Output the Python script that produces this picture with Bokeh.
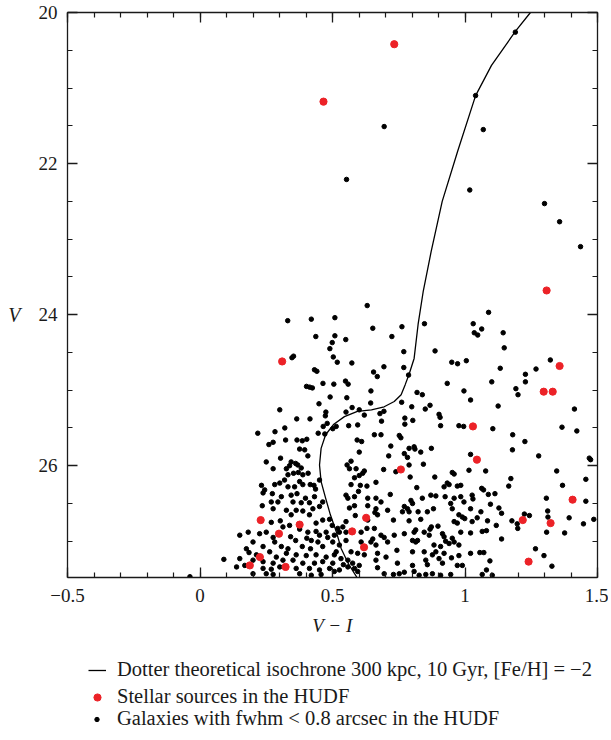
from bokeh.plotting import figure
from bokeh.layouts import column
from bokeh.models import (Range1d, LinearAxis, SingleIntervalTicker, CustomJSTickFormatter,
                          Legend, LegendItem)
from bokeh.embed import file_html
from bokeh.resources import INLINE

# ---------------- data ----------------
iso_vi = [1.265, 1.247, 1.19, 1.10, 1.04, 0.972, 0.914, 0.872, 0.842, 0.823, 0.808,
          0.789, 0.774, 0.759, 0.733, 0.695, 0.647, 0.594, 0.545, 0.505, 0.474, 0.457,
          0.451, 0.457, 0.474, 0.492, 0.514, 0.533, 0.562, 0.596, 0.61]
iso_v = [19.9, 20.0, 20.25, 20.7, 21.1, 21.84, 22.5, 23.17, 23.70, 24.13, 24.58,
         24.79, 24.93, 25.06, 25.15, 25.22, 25.26, 25.28, 25.35, 25.45, 25.59, 25.77,
         25.99, 26.21, 26.43, 26.65, 26.87, 27.10, 27.31, 27.50, 27.6]

star_vi = [0.733, 0.466, 1.308, 0.310, 1.357, 1.297, 1.331, 1.030, 0.758, 1.045,
           1.406, 1.218, 1.323, 1.240, 0.229, 0.376, 0.627, 0.298, 0.574, 0.619,
           0.226, 0.188, 0.323]
star_v = [20.42, 21.18, 23.68, 24.62, 24.68, 25.02, 25.02, 25.48, 26.05, 25.92,
          26.45, 26.72, 26.76, 27.27, 26.72, 26.78, 26.69, 26.90, 26.87, 27.08,
          27.21, 27.32, 27.34]

gal_vi_top = [1.190, 1.040, 1.069, 1.018, 0.695, 0.553, 1.300, 1.357, 1.436]
gal_v_top = [20.26, 21.10, 21.55, 22.35, 21.51, 22.21, 22.53, 22.77, 23.10]

gal_vi_a = [0.331, 0.420, 0.509, 0.437, 0.509, 0.550, 0.499, 0.490, 0.353, 0.347,
            0.503, 0.518, 0.432, 0.441, 0.464, 0.505, 0.549, 0.559, 0.402, 0.414,
            0.424, 0.449, 0.491, 0.554, 0.301, 0.475, 0.473, 0.551, 0.365, 0.415,
            0.320, 0.283, 0.218, 0.465, 0.480, 0.501, 0.514, 0.446, 0.471, 0.561]
gal_v_a = [24.08, 24.06, 24.04, 24.29, 24.28, 24.33, 24.37, 24.45, 24.55, 24.57,
           24.56, 24.63, 24.73, 24.75, 24.91, 24.92, 24.88, 24.92, 24.95, 24.96,
           24.97, 25.18, 25.09, 25.10, 25.26, 25.29, 25.34, 25.29, 25.38, 25.38,
           25.50, 25.55, 25.57, 25.48, 25.44, 25.51, 25.48, 25.57, 25.58, 25.47]

gal_vi_b = [0.631, 0.652, 0.762, 0.847, 0.724, 0.769, 0.887, 0.573, 0.694, 0.655,
            0.669, 0.769, 0.950, 0.972, 1.005, 0.787, 0.933, 0.645, 0.996, 0.819,
            0.839, 0.644, 0.761, 1.021, 0.799, 0.868, 0.850, 0.574, 0.601, 0.679,
            0.694, 0.620, 0.902, 0.906, 0.773, 0.803, 0.685, 0.595, 0.773, 0.908,
            0.977, 0.995]
gal_v_b = [23.88, 24.18, 24.16, 24.12, 24.29, 24.49, 24.48, 24.64, 24.69, 24.76,
           24.82, 24.70, 24.63, 24.65, 24.61, 24.80, 24.91, 25.01, 25.01, 25.03,
           25.06, 25.17, 25.16, 25.13, 25.22, 25.20, 25.25, 25.23, 25.26, 25.31,
           25.28, 25.33, 25.32, 25.36, 25.37, 25.40, 25.41, 25.46, 25.45, 25.47,
           25.47, 25.48]

gal_vi_c = [1.089, 1.031, 1.035, 1.048, 1.063, 1.144, 1.148, 1.322, 1.133, 1.268,
            1.228, 1.101, 1.228, 1.192, 1.200, 1.125, 1.413, 1.105, 1.366, 1.422,
            1.180]
gal_v_c = [23.97, 24.12, 24.24, 24.27, 24.19, 24.24, 24.44, 24.60, 24.71, 24.72,
           24.79, 24.89, 24.89, 24.98, 25.06, 25.21, 25.25, 25.51, 25.49, 25.54,
           25.59]

gal_vi_d = [0.276, 0.260, 0.323, 0.366, 0.386, 0.403, 0.395, 0.376, 0.407, 0.304,
            0.250, 0.344, 0.361, 0.369, 0.338, 0.326, 0.382, 0.276, 0.353, 0.332,
            0.371, 0.408, 0.388, 0.319, 0.301, 0.282, 0.376, 0.388, 0.416, 0.430,
            0.451, 0.436, 0.357, 0.332, 0.232, 0.244, 0.238, 0.273, 0.366, 0.344,
            0.307, 0.294, 0.269, 0.351, 0.382, 0.413, 0.398, 0.432, 0.463, 0.235,
            0.276, 0.326, 0.363, 0.388, 0.426, 0.451, 0.413, 0.344, 0.303, 0.269,
            0.338, 0.313, 0.438, 0.463, 0.489, 0.499, 0.520, 0.539, 0.376, 0.407,
            0.438, 0.451, 0.476, 0.507, 0.526, 0.551, 0.150, 0.182, 0.225, 0.250,
            0.276, 0.282, 0.342, 0.361, 0.403, 0.420, 0.445, 0.482, 0.501, 0.526,
            0.551, 0.200, 0.238, 0.307, 0.332, 0.386, 0.417, 0.463, 0.514, 0.175,
            0.185, 0.213, 0.263, 0.288, 0.326, 0.363, 0.401, 0.438, 0.476, 0.507,
            0.532, 0.150, 0.200, 0.238, 0.276, 0.313, 0.351, 0.388, 0.432, 0.463,
            0.501, 0.541, 0.090, 0.138, 0.169, 0.238, 0.269, 0.301, 0.363, 0.413,
            0.451, 0.489, 0.526, 0.558, 0.200, 0.250, 0.276, 0.376, 0.420, 0.457,
            0.507, -0.038]
gal_v_d = [25.69, 25.72, 25.66, 25.66, 25.67, 25.65, 25.79, 25.78, 25.87, 25.90,
           25.95, 25.95, 25.97, 25.99, 26.00, 26.04, 26.03, 26.04, 26.10, 26.12,
           26.09, 26.10, 26.12, 26.19, 26.23, 26.25, 26.21, 26.25, 26.25, 26.26,
           26.19, 26.31, 26.28, 26.28, 26.26, 26.32, 26.36, 26.37, 26.37, 26.39,
           26.41, 26.48, 26.48, 26.48, 26.49, 26.49, 26.43, 26.41, 26.48, 26.53,
           26.57, 26.59, 26.59, 26.60, 26.57, 26.54, 26.65, 26.65, 26.73, 26.75,
           26.79, 26.81, 26.76, 26.72, 26.71, 26.79, 26.83, 26.81, 26.84, 26.88,
           26.87, 26.92, 26.88, 26.92, 26.88, 26.88, 26.92, 26.88, 26.90, 26.88,
           26.95, 27.01, 26.94, 26.99, 26.96, 26.99, 27.01, 26.95, 27.01, 27.05,
           26.99, 27.01, 27.07, 27.07, 27.10, 27.07, 27.10, 27.07, 27.14, 27.10,
           27.15, 27.18, 27.14, 27.21, 27.16, 27.18, 27.19, 27.18, 27.21, 27.18,
           27.23, 27.23, 27.25, 27.27, 27.29, 27.25, 27.25, 27.29, 27.29, 27.27,
           27.29, 27.31, 27.24, 27.34, 27.32, 27.36, 27.37, 27.34, 27.36, 27.36,
           27.38, 27.36, 27.38, 27.34, 27.43, 27.43, 27.44, 27.43, 27.45, 27.44,
           27.40, 27.47]

gal_vi_e = [0.593, 0.610, 0.658, 0.683, 0.752, 0.758, 0.720, 0.601, 0.712, 0.771,
            0.783, 0.789, 0.808, 0.811, 0.833, 0.873, 0.555, 0.570, 0.589, 0.564,
            0.620, 0.614, 0.601, 0.583, 0.693, 0.789, 0.793, 0.843, 0.739, 1.021,
            0.886, 0.952, 0.959, 1.015, 0.570, 0.605, 0.630, 0.664, 0.818, 0.933,
            0.940, 0.921, 0.971, 0.984, 0.551, 0.558, 0.583, 0.598, 0.633, 0.664,
            0.683, 0.718, 0.771, 0.796, 0.802, 0.839, 0.871, 0.890, 0.925, 0.959,
            0.984, 0.996, 1.027, 1.021, 0.564, 0.583, 0.633, 0.664, 0.660, 0.708,
            0.764, 0.783, 0.789, 0.823, 0.858, 0.881, 0.946, 0.952, 0.977, 0.990,
            0.999, 0.551, 0.586, 0.633, 0.670, 0.730, 0.789, 0.833, 0.873, 0.868,
            0.898, 0.959, 0.971, 1.027, 0.608, 0.630, 0.658, 0.683, 0.695, 0.733,
            0.771, 0.808, 0.814, 0.846, 0.865, 0.915, 0.921, 0.927, 0.952, 0.959,
            0.984, 1.021, 0.608, 0.652, 0.645, 0.664, 0.708, 0.802, 0.814, 0.821,
            0.883, 0.908, 0.940, 0.977, 0.570, 0.595, 0.620, 0.670, 0.702, 0.743,
            0.802, 0.846, 0.877, 0.890, 0.921, 0.949, 0.977, 1.021, 0.558, 0.576,
            0.601, 0.664, 0.670, 0.745, 0.802, 0.852, 0.858, 0.902, 0.915, 0.971,
            0.990, 0.583, 0.595, 0.695, 0.730, 0.752, 0.771, 0.808, 0.827, 0.852,
            0.877, 0.908, 0.946]
gal_v_e = [25.66, 25.68, 25.59, 25.59, 25.60, 25.63, 25.74, 25.82, 25.87, 25.84,
           25.89, 25.77, 25.75, 25.78, 25.82, 25.77, 25.99, 25.94, 26.04, 26.04,
           26.07, 26.10, 26.13, 26.16, 26.05, 25.99, 26.15, 25.98, 26.08, 25.85,
           26.15, 26.09, 26.11, 26.06, 26.25, 26.26, 26.27, 26.22, 26.29, 26.23,
           26.25, 26.28, 26.27, 26.26, 26.39, 26.43, 26.41, 26.34, 26.43, 26.43,
           26.48, 26.38, 26.54, 26.46, 26.50, 26.43, 26.39, 26.40, 26.41, 26.43,
           26.41, 26.48, 26.39, 26.57, 26.56, 26.53, 26.53, 26.57, 26.62, 26.59,
           26.61, 26.57, 26.61, 26.61, 26.61, 26.57, 26.50, 26.57, 26.65, 26.68,
           26.70, 26.74, 26.66, 26.72, 26.65, 26.72, 26.73, 26.71, 26.81, 26.84,
           26.80, 26.74, 26.76, 26.74, 26.88, 26.83, 26.83, 26.92, 26.95, 26.92,
           26.90, 26.88, 26.85, 26.88, 26.92, 26.90, 26.94, 27.00, 26.96, 27.01,
           26.88, 26.89, 27.01, 26.97, 27.01, 27.05, 27.01, 26.99, 27.01, 26.99,
           27.05, 27.07, 27.03, 27.05, 27.14, 27.16, 27.18, 27.16, 27.21, 27.12,
           27.14, 27.14, 27.18, 27.14, 27.16, 27.22, 27.19, 27.16, 27.25, 27.29,
           27.32, 27.25, 27.35, 27.29, 27.32, 27.25, 27.31, 27.23, 27.29, 27.32,
           27.32, 27.36, 27.40, 27.43, 27.44, 27.43, 27.41, 27.40, 27.45, 27.44,
           27.43, 27.45, 27.44]

gal_vi_f = [1.226, 1.179, 1.278, 1.469, 1.474, 1.078, 1.346, 1.173, 1.456, 1.165,
            1.368, 1.063, 1.070, 1.030, 1.088, 1.113, 1.307, 1.456, 1.096, 1.128,
            1.060, 1.138, 1.312, 1.224, 1.243, 1.046, 1.085, 1.177, 1.197, 1.199,
            1.393, 1.313, 1.447, 1.486, 1.065, 1.081, 1.118, 1.308, 1.376, 1.138,
            1.266, 1.056, 1.071, 1.094, 1.298, 1.328, 1.081, 1.065, 1.103]
gal_v_f = [25.68, 25.79, 25.87, 25.90, 25.92, 26.07, 26.07, 26.17, 26.18, 26.27,
           26.26, 26.30, 26.32, 26.44, 26.38, 26.37, 26.43, 26.47, 26.51, 26.56,
           26.61, 26.63, 26.60, 26.64, 26.66, 26.69, 26.73, 26.73, 26.77, 26.83,
           26.69, 26.68, 26.77, 26.71, 26.87, 26.86, 26.79, 26.88, 26.89, 26.97,
           27.10, 27.15, 27.15, 27.26, 27.19, 27.33, 27.38, 27.44, 27.45]

gal_vi = gal_vi_top + gal_vi_a + gal_vi_b + gal_vi_c + gal_vi_d + gal_vi_e + gal_vi_f
gal_v = gal_v_top + gal_v_a + gal_v_b + gal_v_c + gal_v_d + gal_v_e + gal_v_f

label_iso = "Dotter theoretical isochrone 300 kpc, 10 Gyr, [Fe/H] = \u22122"
label_star = "Stellar sources in the HUDF"
label_gal = "Galaxies with fwhm < 0.8 arcsec in the HUDF"

# ---------------- styling ----------------
SERIF = "Liberation Serif"
INK = "#1a1a1a"
RED = "#ec2227"
W = 608

p = figure(width=W, frame_width=530, frame_height=565,
           x_range=Range1d(-0.5, 1.5), y_range=Range1d(27.48, 20.0),
           x_axis_location=None, y_axis_location=None,
           output_backend="svg", toolbar_location=None,
           min_border_left=67, min_border_top=12, min_border_right=11,
           min_border_bottom=68)
p.grid.visible = False
p.outline_line_color = None

fmt = CustomJSTickFormatter(code="""
    const v = parseFloat(tick.toFixed(3));
    return v < 0 ? '\u2212' + Math.abs(v) : String(v);
""")
blank = CustomJSTickFormatter(code="return '';")

def make_axis(kind, labels):
    if kind == "x":
        ticker = SingleIntervalTicker(interval=0.5, num_minor_ticks=5)
    else:
        ticker = SingleIntervalTicker(interval=2, num_minor_ticks=4)
    ax = LinearAxis(ticker=ticker, formatter=fmt if labels else blank)
    ax.axis_line_color = INK
    ax.axis_line_width = 1.3
    ax.major_tick_line_color = INK
    ax.major_tick_line_width = 1.3
    ax.minor_tick_line_color = INK
    ax.minor_tick_line_width = 1.2
    ax.major_tick_in = 10
    ax.major_tick_out = 0
    ax.minor_tick_in = 5
    ax.minor_tick_out = 0
    ax.major_label_text_font = SERIF
    ax.major_label_text_font_size = "19px"
    ax.major_label_text_color = INK
    ax.major_label_standoff = 11 if labels else 0
    return ax

xb = make_axis("x", True)
xb.axis_label = "V \u2212 I"
xb.axis_label_text_font = SERIF
xb.axis_label_text_font_style = "italic"
xb.axis_label_text_font_size = "19px"
xb.axis_label_text_color = INK
xb.axis_label_standoff = 10
p.add_layout(xb, "below")
p.add_layout(make_axis("x", False), "above")

yl = make_axis("y", True)
yl.major_label_standoff = 10
yl.axis_label = "\n\nV"
yl.axis_label_text_font = SERIF
yl.axis_label_text_font_style = "italic"
yl.axis_label_text_font_size = "20px"
yl.axis_label_text_line_height = 0.9
yl.axis_label_text_color = INK
yl.axis_label_standoff = 15
if "axis_label_orientation" in yl.properties():
    yl.axis_label_orientation = "horizontal"
p.add_layout(yl, "left")
p.add_layout(make_axis("y", False), "right")

p.scatter(gal_vi, gal_v, size=4.5, color="black", marker="circle")
p.line(iso_vi, iso_v, line_color="black", line_width=1.3)
p.scatter(star_vi, star_v, size=7.2, color=RED, marker="circle")

# ---------------- legend strip ----------------
lg = figure(width=W, height=92, x_range=Range1d(-0.5, 1.5), y_range=Range1d(100, 101),
            output_backend="svg", toolbar_location=None,
            x_axis_location=None, y_axis_location=None,
            min_border_left=0, min_border_right=0, min_border_top=0, min_border_bottom=0)
lg.grid.visible = False
lg.outline_line_color = None

k_gal = lg.scatter(gal_vi, gal_v, size=4.5, color="black", marker="circle")
k_iso = lg.line(iso_vi, iso_v, line_color="black", line_width=1.3)
k_star = lg.scatter(star_vi, star_v, size=7.2, color=RED, marker="circle")

common = dict(orientation="vertical", margin=0, padding=0, border_line_color=None,
              background_fill_alpha=0, label_text_font=SERIF,
              label_text_font_size="20.5px", label_text_color=INK,
              glyph_height=20, label_height=20, spacing=4)

leg_a = Legend(items=[LegendItem(label=label_iso, renderers=[k_iso]),
                      LegendItem(label=label_star, renderers=[k_star])],
               location=(21, 29), glyph_width=18, label_standoff=11, **common)
leg_b = Legend(items=[LegendItem(label=label_gal, renderers=[k_gal])],
               location=(24, 7), glyph_width=11, label_standoff=15, **common)
lg.add_layout(leg_a)
lg.add_layout(leg_b)

layout = column(p, lg, spacing=0)
open("out.html", "w").write(file_html(layout, INLINE))
